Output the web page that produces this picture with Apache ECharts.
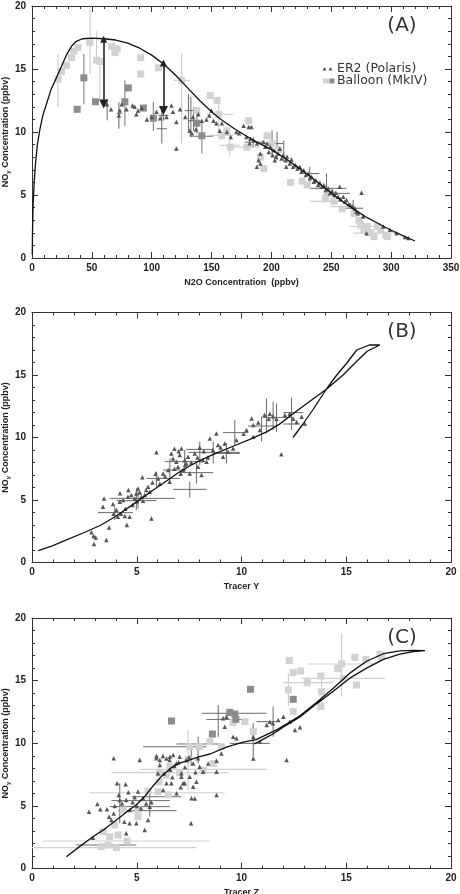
<!DOCTYPE html>
<html><head><meta charset="utf-8">
<script src="https://cdn.jsdelivr.net/npm/echarts@6/dist/echarts.min.js"></script>
<style>html,body{margin:0;padding:0;background:#fff}#c{width:460px;height:894px}</style>
</head><body><div id="c"></div>
<script>
// ---------- Panel A ----------
const aXTicks = [0, 350, 50];
const aCurve = [[0.2,0.3],[0.5,2.5],[1,4.3],[1.8,6],[3,7.6],[4.5,9],[6.4,10.1],[9,11.3],[12,12.2],[16,13.4],[20.4,14.3],[25,15.3],[28.7,16.1],[33,16.8],[37,17.2],[42,17.4],[50,17.45],[60,17.4],[70,17.3],[80,17.05],[90,16.65],[100,16.1],[110,15.4],[120,14.5],[130,13.5],[140,12.5],[150,11.6],[157,11.05],[170,10.2],[185,9.34],[200,8.6],[210,8.0],[220,7.35],[230,6.65],[240,5.9],[250,5.15],[260,4.45],[270,3.8],[280,3.2],[290,2.7],[300,2.2],[310,1.75],[320,1.35]];
const aEr2 = [[62.7,12.2],[66,11.8],[73.3,11.7],[72.6,11.3],[75,12.2],[78.9,11.8],[84,12.1],[85.8,12.0],[87.2,11.4],[88.6,11.7],[91.6,11.9],[96,11.0],[100,11.2],[104,11.6],[107,11.1],[109.5,11.8],[112.3,11.2],[116.5,12.1],[117.8,11.6],[120.6,10.8],[120.6,8.7],[123.7,11.8],[128,11.2],[131.7,10.1],[133.5,9.9],[134.5,11.2],[137,10.2],[139,11.4],[141.9,10.9],[145.7,11.0],[148,11.3],[149.9,11.7],[151.6,10.9],[154,10.7],[156.8,10.1],[158.6,10.7],[162.8,10.0],[166,9.6],[170.7,10.0],[173,9.9],[176.8,10.5],[179.1,9.6],[181,10.4],[181.8,9.1],[183.3,10.4],[182.4,9.47],[185.2,9.34],[187.9,9.08],[189.3,7.76],[187.9,7.24],[190.7,8.29],[190.7,7.5],[193.5,9.21],[194.9,8.82],[196.4,9.08],[197.8,8.42],[199,8.82],[201,8.16],[202.1,8.55],[202.8,7.76],[203.8,8.03],[205.6,8.29],[207,8.68],[208.4,7.89],[209.8,8.16],[212,7.76],[212.4,7.24],[213,8.03],[215.3,7.5],[216.7,7.82],[218.1,7.24],[220,7.37],[221.8,7.1],[223.7,7.24],[225,6.84],[227,6.97],[228.7,6.58],[230.7,6.71],[232,6.32],[233.5,6.45],[235.4,6.05],[237,6.18],[239,5.79],[240.4,5.97],[242.1,5.66],[243.8,5.79],[245.4,5.39],[247.4,5.53],[248.8,5.13],[250.7,5.34],[252.4,5.0],[253.8,5.18],[255.8,4.87],[257,5.66],[257.7,4.66],[260,4.87],[261.3,4.47],[262.7,4.6],[264.7,4.29],[266,4.21],[267.7,4.08],[269.7,3.95],[271,3.68],[272.4,3.55],[275.3,5.18],[276.6,3.29],[279.4,1.97],[293.4,2.5],[299,2.24],[304.5,1.97],[311.5,1.66],[314.3,1.58]];
const aBalloonLight = [[21.8,14.2],[24.6,14.8],[28.8,15.3],[33,15.9],[34.9,16.4],[38.5,16.7],[48.3,17.1],[53.9,15.7],[56.7,15.6],[66.5,16.8],[69.3,16.3],[71.2,16.6],[90.8,15.9],[90.8,14.6],[105.6,15.1],[125,14.1],[148.9,12.9],[154.5,12.5],[155.9,11.4],[137.7,11.7],[162.8,10.1],[158.6,9.7],[165.6,8.8],[181,10.9],[179.6,8.8],[190.7,8.0],[193.5,7.1],[196.4,9.7],[200.5,9.1],[206,8.6],[215.9,6.0],[225.7,6.1],[229.8,5.8],[245,4.7],[246.5,5.1],[252.2,4.5],[259.2,3.9],[269,3.55],[273.1,3.0],[274.5,2.6],[277.3,2.2],[283,2.0],[285.7,1.7],[291.3,2.2],[295.5,1.8],[297,1.7],[280,2.5],[288.5,2.5]];
const aBalloonDark = [[37.7,11.8],[43.3,14.3],[53,12.4],[77.6,12.4],[80.4,13.5],[93,11.9],[101.4,11.1],[137.7,10.7],[141.9,9.7]];
// [x, y, xLow, xHigh, yLow, yHigh]
const aEr2Err = [[62.8,11.84,null,null,10.92,12.63],[72.6,11.45,70.6,74.8,10.26,12.37],[108.4,10.26,104.2,112.6,9.08,11.97],[109.8,11.32,105.6,114,10.9,11.7],[130.7,11.7,127.9,136.3,10.1,13.0],[132.7,11.2,null,null,9.6,12.8],[134.9,10.9,130.7,140.5,10.1,12.0],[184.7,9.2,177.8,193,8.8,9.6],[200.5,9.08,190.7,210.3,8.03,10.13],[204.7,9.6,null,null,7.76,10.0],[210.3,8.8,null,null,7.63,9.34],[232,6.7,224,240,5.92,7.24],[241.8,5.53,232,262.7,null,null],[246,5.79,null,null,4.6,6.71],[258.5,5.13,251.6,265.5,null,null],[268.3,3.95,257.2,276.6,3.29,4.6]];
const aBalloonLightErr = [[21.7,14.2,null,null,12.0,16.2],[48.5,17.1,null,null,14.6,19.8],[56.7,15.6,null,null,12.5,15.7],[53.9,15.7,null,null,15.6,18.0],[125,14.1,118,132,9.1,16.2],[155.9,11.4,146,168,10.0,12.5],[165.1,8.94,156.8,173.5,8.15,9.87],[158.2,9.73,148.4,167.9,null,null],[179.6,8.8,168,190,null,null],[252.2,4.5,232,262.7,null,null],[258,4.08,248.8,268.3,null,null],[288,1.97,268.3,307.3,null,null],[280,2.5,265.5,293.4,null,null]];
const aBalloonDarkErr = [[43.3,14.3,null,null,12.2,16.2],[77.6,12.4,null,null,10.5,14.1],[141.9,9.66,131.8,151.3,8.3,10.9],[137.7,10.7,null,null,9.87,11.7],[101.4,11.0,null,null,10.1,12.4]];
const aArrows = [[[59.9,17.36],[59.9,12.23]],[[109.8,15.47],[109.8,11.7]]];

// ---------- Panel B ----------
const bXTicks = [0, 20, 5];
const bCurve = [[0.3,0.95],[1,1.35],[1.7,1.85],[2.5,2.4],[3.3,3.0],[4.0,3.7],[5,4.85],[5.7,5.7],[6.4,6.5],[7.0,7.2],[7.5,7.7],[8.0,8.15],[8.8,8.75],[9.6,9.3],[10.4,9.85],[11.2,10.45],[11.8,11.05],[12.46,11.9],[13.1,12.7],[14.05,13.86],[14.85,15.0],[15.5,16.1],[16.0,16.9],[16.6,17.4],[16.1,17.4],[15.5,17.0],[15.0,15.9],[14.5,14.9],[14.05,13.86],[13.4,12.2],[12.9,11.0],[12.46,10.0]];
const bEr2 = [[2.84,2.42],[2.94,2.12],[3.04,2.0],[2.96,1.48],[3.55,1.8],[3.68,2.8],[3.39,4.47],[3.44,5.13],[3.87,4.68],[4.03,4.2],[4.1,3.67],[4.43,3.72],[4.66,3.67],[4.53,3.0],[4.19,4.87],[4.35,5.0],[4.58,5.27],[4.74,5.4],[4.9,5.13],[4.98,5.53],[5.06,5.93],[5.22,5.27],[5.38,5.4],[5.54,6.07],[5.62,5.67],[5.7,3.53],[5.27,6.82],[5.94,8.82],[6.02,6.73],[6.26,7.13],[6.5,7.4],[6.57,6.47],[6.65,8.73],[6.73,8.33],[6.89,8.07],[6.97,7.67],[7.05,8.6],[7.13,9.13],[7.21,7.4],[7.29,8.2],[7.37,7.93],[7.45,8.47],[7.53,7.13],[7.77,8.73],[7.93,7.67],[8.09,7.0],[8.16,8.2],[8.33,8.07],[8.49,9.93],[8.64,9.0],[8.8,10.33],[8.88,9.4],[9.12,8.47],[9.2,9.53],[9.36,8.87],[9.6,9.13],[9.76,9.8],[10.24,10.6],[10.48,11.53],[10.56,11.0],[10.88,10.6],[11.1,11.8],[11.35,11.9],[11.5,11.7],[11.67,11.5],[11.9,8.67],[12.07,11.8],[12.3,11.9],[12.47,11.5],[12.63,11.25],[12.87,11.67],[13.02,11.13],[10.56,10.07],[4.8,4.6],[5.0,4.9],[5.15,5.6],[5.3,4.95],[5.45,5.8],[4.45,4.3],[4.25,3.9],[3.9,3.9],[6.1,6.3],[6.35,6.9],[6.8,7.5],[7.1,7.1],[7.3,7.8],[7.6,8.0],[7.0,8.9],[6.8,9.1],[7.9,8.4],[8.2,8.9],[8.4,8.4],[8.0,9.2],[9.0,9.2],[10.1,10.3],[10.8,11.2],[11.3,11.5],[5.75,6.4],[4.6,5.8],[5.9,7.1],[4.2,5.55]];
const bEr2Err = [[5.06,5.13,3.71,6.82,4.33,5.8],[3.95,3.99,3.15,4.82,3.4,4.47],[4.98,4.95,4.03,5.94,4.2,5.93],[5.94,6.73,5.46,7.05,6.07,7.27],[6.58,7.4,6.26,7.37,6.47,8.33],[7.85,7.19,7.05,8.65,6.33,7.93],[7.53,5.85,6.74,8.33,5.21,6.47],[8.65,8.81,7.45,9.92,7.93,9.67],[8.01,9.05,7.37,8.65,7.8,9.67],[7.29,8.07,6.34,8.17,7.27,9.0],[9.28,8.73,8.65,9.92,7.93,9.53],[9.68,10.39,9.12,10.32,9.4,11.4],[10.96,10.92,10.32,11.67,9.67,11.67],[11.19,11.61,11.03,12.47,10.33,13.13],[11.51,11.67,null,null,10.6,12.87],[11.67,11.67,null,null,10.47,12.73],[12.39,11.99,11.99,12.95,10.6,13.21],[12.31,11.08,11.99,12.79,null,null]];

// ---------- Panel C ----------
const cXTicks = [0, 20, 5];
const cCurve = [[1.64,0.96],[2.3,1.8],[2.91,2.55],[3.5,3.2],[4.03,3.88],[4.5,4.5],[4.98,5.1],[5.4,5.8],[5.78,6.6],[6.2,7.4],[6.6,8.0],[7.0,8.4],[7.4,8.6],[8.0,8.95],[8.5,9.15],[9.28,9.7],[10.08,10.1],[10.7,10.3],[11.2,10.7],[11.7,11.1],[12.2,11.6],[12.79,12.2],[13.58,13.25],[14.38,14.4],[15.17,15.6],[15.97,16.55],[16.77,17.15],[17.56,17.37],[18.2,17.42],[18.76,17.4],[18.2,17.32],[17.56,17.12],[16.77,16.7],[15.97,16.0],[15.17,15.2],[14.38,14.15],[13.58,13.15],[12.79,12.1],[12.0,11.3],[11.5,10.75],[11.0,10.3],[10.6,9.95]];
const cEr2 = [[2.72,4.55],[3.12,5.16],[2.91,2.47],[3.26,4.74],[3.58,4.74],[3.68,4.15],[3.79,3.89],[3.9,8.81],[4.06,6.81],[4.47,6.73],[4.14,5.88],[4.19,5.48],[4.5,5.48],[4.66,4.68],[4.41,3.75],[4.66,3.62],[4.5,2.82],[4.98,3.62],[5.14,8.68],[5.06,6.15],[5.3,5.62],[5.38,3.09],[5.54,3.89],[5.62,4.95],[5.94,8.81],[6.01,7.61],[6.1,8.28],[6.25,8.99],[6.42,6.81],[6.57,8.68],[6.65,6.81],[6.89,8.41],[7.13,7.61],[7.21,6.81],[7.53,7.34],[7.61,5.62],[7.69,6.54],[7.85,6.94],[7.92,8.81],[7.59,3.62],[5.94,8.99],[6.1,8.67],[6.42,8.8],[6.58,8.94],[6.74,9.07],[7.05,8.94],[7.37,8.67],[7.69,8.4],[8.0,8.14],[8.17,7.74],[8.41,8.4],[8.81,8.62],[8.81,7.74],[8.81,5.88],[9.04,9.2],[9.12,12.0],[9.28,12.13],[9.2,11.33],[9.6,10.53],[9.76,10.4],[10.56,10.53],[10.56,8.8],[10.88,10.13],[11.2,11.46],[11.35,11.73],[11.5,11.6],[11.75,11.86],[12.0,12.13],[12.15,8.67],[12.3,11.73],[12.55,11.06],[12.79,11.28],[7.77,5.61],[6.9,6.01],[6.26,6.28],[7.29,6.81],[7.13,7.34],[4.3,5.2],[4.8,5.3],[5.0,5.0],[5.2,4.8],[4.9,5.7],[5.45,5.2],[4.6,6.1],[3.9,4.4],[3.95,5.0],[5.7,5.3],[6.6,7.9],[6.8,8.2],[7.0,8.5],[7.3,8.1],[7.5,8.9],[7.8,7.7],[6.7,7.3],[6.3,7.6],[7.1,6.5]];
const cBalloonLight = [[3.39,2.95],[3.71,2.55],[3.31,1.76],[3.63,1.89],[4.03,1.68],[3.95,3.48],[4.11,2.69],[4.54,2.21],[4.35,4.68],[5.06,4.68],[5.06,4.15],[5.54,6.2],[6.02,6.14],[6.07,6.94],[6.5,5.9],[6.1,7.61],[6.42,7.47],[6.58,8.14],[7.05,7.66],[7.45,8.72],[7.53,9.73],[7.98,9.73],[8.17,7.87],[8.49,10.13],[8.65,8.4],[9.04,9.73],[9.6,11.65],[10.16,11.73],[10.56,10.93],[12.28,16.6],[12.47,15.64],[12.24,14.26],[12.47,12.53],[12.82,15.77],[13.14,14.84],[13.79,15.37],[13.82,14.12],[13.79,12.93],[14.59,15.98],[14.78,16.33],[14.86,15.19],[15.41,16.86],[15.49,14.65],[15.94,16.7],[16.6,17.1],[16.69,16.91]];
const cBalloonDark = [[6.66,11.78],[8.61,10.74],[9.44,12.47],[9.68,12.34],[9.73,11.91],[10.43,14.31],[12.47,13.51]];
const cBalloonErr = [[3.63,1.68,0,7.85,null,null],[4.54,2.21,0.53,8.49,null,null],[6.5,7.66,3.79,9.36,null,null],[8.17,7.93,5.14,11.19,null,null],[6.0,6.06,2.75,9.2,null,null],[14.78,16.33,13.14,16.45,13.72,18.78],[14.86,15.19,12.87,16.85,null,null],[12.7,14.84,11.99,14.38,null,null],[7.45,8.72,null,null,6.28,11.06],[12.24,14.26,null,null,13.0,15.6],[13.82,14.12,null,null,13.0,15.2],[6.1,7.61,null,null,6.8,8.4]];
const cEr2Err = [[3.63,1.89,2.12,4.98,null,null],[5.94,5.74,4.75,7.13,null,null],[5.2,5.43,3.79,6.58,null,null],[5.14,4.95,3.71,6.58,null,null],[5.5,4.63,4.11,6.9,null,null],[7.6,9.73,5.3,8.33,8.2,10.0],[7.9,9.95,6.9,8.97,null,null],[9.5,12.4,8.12,11.2,null,null],[8.89,11.8,null,null,10.53,13.06],[9.3,11.91,8.33,10.32,null,null],[11.2,11.73,10.72,11.67,null,null],[11.51,11.5,null,null,10.53,12.93],[10.4,10.0,9.44,11.35,null,null],[10.56,10.0,null,null,8.94,11.6],[4.19,5.3,null,null,3.62,6.81],[5.62,5.0,null,null,4.15,6.28],[7.93,9.5,null,null,8.4,10.53]];

const yTicks = [0, 20, 5];
const xNames = ['N2O Concentration  (ppbv)', 'Tracer Y', 'Tracer Z'];
const yName = 'NO{s|y} Concentration (ppbv)';
const panelLabels = ['(A)', '(B)', '(C)'];
const legendLabels = ['ER2 (Polaris)', 'Balloon (MkIV)'];

// ---------- build ----------
const FONT = '"Liberation Sans", Arial, sans-serif';
const AX = '#333';
const grids = [
  {left:32, top:6, width:419, height:252},
  {left:32, top:312.5, width:419, height:250},
  {left:32, top:618, width:419, height:250.7}
];
const xTickSets = [aXTicks, bXTicks, cXTicks];
const nameGaps = [20, 20, 19];
const xAxes = [], yAxes = [];
grids.forEach((g, i) => {
  g.outerBoundsMode = 'none';
  const t = xTickSets[i];
  const common = {gridIndex:i, type:'value', min:t[0], max:t[1], interval:t[2],
    axisLine:{onZero:false, lineStyle:{color:AX, width:1}},
    axisTick:{inside:true, length:6, lineStyle:{color:AX}},
    minorTick:{show:true, splitNumber:5, length:3, lineStyle:{color:AX}},
    splitLine:{show:false}, minorSplitLine:{show:false}};
  xAxes.push(Object.assign({}, common, {position:'bottom', nameMoveOverlap:false,
    axisLabel:{margin:5, fontFamily:FONT, fontWeight:'bold', fontSize:10, color:'#222'},
    name:xNames[i], nameLocation:'middle', nameGap:nameGaps[i],
    nameTextStyle:{fontFamily:FONT, fontWeight:'bold', fontSize:9, color:'#222'}}));
  xAxes.push(Object.assign({}, common, {position:'top', axisLabel:{show:false}}));
  const yc = Object.assign({}, common, {min:yTicks[0], max:yTicks[1], interval:yTicks[2]});
  yAxes.push(Object.assign({}, yc, {position:'left', nameMoveOverlap:false,
    axisLabel:{margin:6, fontFamily:FONT, fontWeight:'bold', fontSize:10, color:'#222'},
    name:yName, nameLocation:'middle', nameGap:21, nameRotate:90,
    nameTextStyle:{fontFamily:FONT, fontWeight:'bold', fontSize:9, color:'#222',
      rich:{s:{fontFamily:FONT, fontWeight:'bold', fontSize:6, color:'#222', padding:[4,0,0,0]}}}}));
  yAxes.push(Object.assign({}, yc, {position:'right', axisLabel:{show:false}}));
});

function errSeries(p, data, color, width) {
  return {type:'custom', xAxisIndex:2*p, yAxisIndex:2*p, clip:true, silent:true, z:2,
    data:data.map(d => d.map(v => v === null ? NaN : v)),
    renderItem:(params, api) => {
      const y = api.value(1), x = api.value(0);
      const xl = api.value(2), xh = api.value(3), yl = api.value(4), yh = api.value(5);
      const ch = [];
      const st = {stroke:color, lineWidth:width};
      if (isFinite(xl) && isFinite(xh)) {
        const a = api.coord([xl, y]), b = api.coord([xh, y]);
        ch.push({type:'line', shape:{x1:a[0], y1:a[1], x2:b[0], y2:b[1]}, style:st});
      }
      if (isFinite(yl) && isFinite(yh)) {
        const a = api.coord([x, yl]), b = api.coord([x, yh]);
        ch.push({type:'line', shape:{x1:a[0], y1:a[1], x2:b[0], y2:b[1]}, style:st});
      }
      return {type:'group', children:ch};
    }};
}
function scat(p, data, symbol, size, color, z) {
  return {type:'scatter', xAxisIndex:2*p, yAxisIndex:2*p, data, symbol, symbolSize:size,
    itemStyle:{color, opacity:1}, z:z||3, silent:true};
}
function curve(p, data) {
  return {type:'line', xAxisIndex:2*p, yAxisIndex:2*p, data, showSymbol:false, symbol:'none',
    lineStyle:{color:'#111', width:1.3}, z:5, silent:true};
}
const LIGHT = '#d2d2d2', DARK = '#8c8c8c', TRI = '#555', ERR = '#6a6a6a';
const series = [
  errSeries(0, aBalloonLightErr, '#cfcfcf', 1.2),
  errSeries(0, aBalloonDarkErr, '#8c8c8c', 1.2),
  scat(0, aBalloonLight, 'rect', 7, LIGHT),
  scat(0, aBalloonDark, 'rect', 7, DARK),
  errSeries(0, aEr2Err, ERR, 1),
  scat(0, aEr2, 'triangle', 4.5, TRI, 4),
  curve(0, aCurve),
  {type:'lines', coordinateSystem:'cartesian2d', xAxisIndex:0, yAxisIndex:0, z:6,
    data:aArrows.map(c => ({coords:c})), symbol:['triangle','triangle'], symbolSize:[7,9],
    lineStyle:{color:'#222', width:1.6, opacity:1}, silent:true},
  errSeries(1, bEr2Err, ERR, 1),
  scat(1, bEr2, 'triangle', 4.5, TRI, 4),
  curve(1, bCurve),
  errSeries(2, cBalloonErr, '#cfcfcf', 1.2),
  scat(2, cBalloonLight, 'rect', 7, LIGHT),
  scat(2, cBalloonDark, 'rect', 7, DARK),
  errSeries(2, cEr2Err, ERR, 1),
  scat(2, cEr2, 'triangle', 4.5, TRI, 4),
  curve(2, cCurve)
];

const labelY = [26, 332, 638];
const graphic = panelLabels.map((t, i) => ({type:'text', x:402, y:labelY[i], z:10,
  style:{text:t, font:'20px "DejaVu Sans", sans-serif', fill:'#333', align:'center', verticalAlign:'middle'}}));
graphic.push(
  {type:'text', x:337, y:68.5, style:{text:legendLabels[0], font:'12.5px "DejaVu Sans", sans-serif', fill:'#333', verticalAlign:'middle'}},
  {type:'text', x:337, y:81, style:{text:legendLabels[1], font:'12.5px "DejaVu Sans", sans-serif', fill:'#333', verticalAlign:'middle'}},
  {type:'polygon', shape:{points:[[322.5,70.5],[324.5,67],[326.5,70.5]]}, style:{fill:TRI}},
  {type:'polygon', shape:{points:[[328.5,70.5],[330.5,67],[332.5,70.5]]}, style:{fill:TRI}},
  {type:'rect', shape:{x:323, y:78.5, width:6.5, height:5}, style:{fill:LIGHT}},
  {type:'rect', shape:{x:329.5, y:78.5, width:5, height:5}, style:{fill:DARK}}
);

const chart = echarts.init(document.getElementById('c'), null, {renderer:'canvas'});
chart.setOption({animation:false, backgroundColor:'#fff', grid:grids, xAxis:xAxes, yAxis:yAxes, series, graphic});
</script></body></html>
